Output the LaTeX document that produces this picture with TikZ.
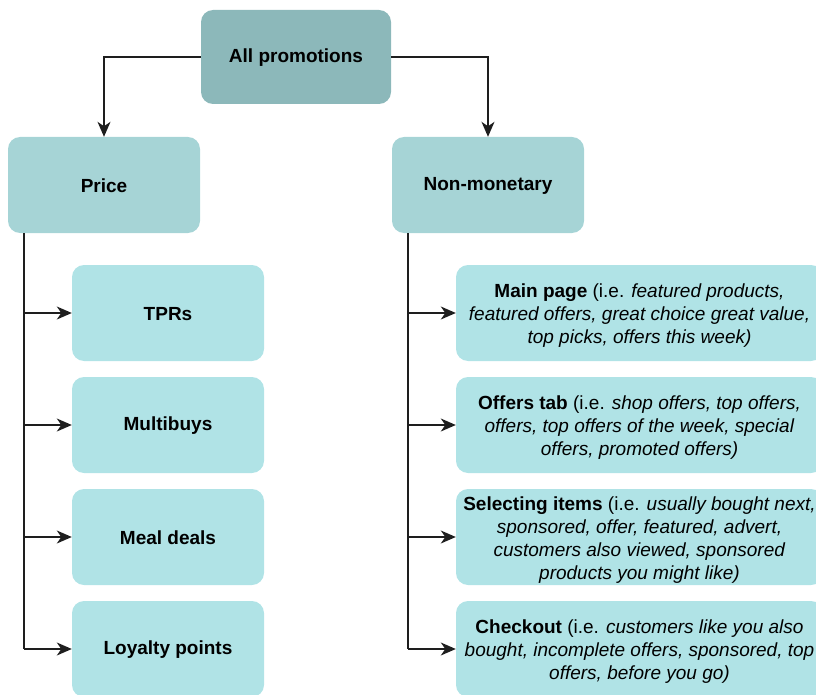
\documentclass[tikz,border=0pt]{standalone}
\usepackage{fontspec}
\setmainfont{Liberation Sans}
\usetikzlibrary{arrows.meta}
\definecolor{topfill}{HTML}{8CB8BA}
\definecolor{midfill}{HTML}{A6D4D6}
\definecolor{leaffill}{HTML}{B0E3E6}
\definecolor{linecol}{HTML}{1E1E1E}
\tikzset{
  box/.style={rounded corners=12pt, draw=none, minimum width=192pt, minimum height=96pt,
    inner sep=0pt},
  txt/.style={align=center, inner sep=0pt, font=\fontsize{19}{23}\selectfont, yshift=-3pt},
  btxt/.style={align=center, inner sep=0pt, font=\fontsize{19}{23}\selectfont\bfseries, yshift=-1pt},
  topbox/.style={box, fill=topfill, minimum width=190pt, minimum height=94pt, label={[btxt]center:#1}},
  midbox/.style={box, fill=midfill, label={[btxt]center:#1}},
  leafbox/.style={box, fill=leaffill, label={[btxt]center:#1}},
  widebox/.style={box, fill=leaffill, minimum width=367pt, label={[txt]center:#1}},
  conn/.style={draw=linecol, line width=1.4pt, -{Stealth[length=15pt,width=13pt,inset=4.5pt]}},
  plain/.style={draw=linecol, line width=1.4pt},
}
\begin{document}
\begin{tikzpicture}[x=1pt,y=-1pt]
\useasboundingbox (0,0) rectangle (816,695);
\node[topbox={All promotions}] (all) at (296,57) {};
\node[midbox={Price}] (price) at (104,185) {};
\node[midbox={Non-monetary}] (nonmon) at (488,185) {};

\node[leafbox={TPRs}] (tpr) at (168,313) {};
\node[leafbox={Multibuys}] (multi) at (168,425) {};
\node[leafbox={Meal deals}] (meal) at (168,537) {};
\node[leafbox={Loyalty points}] (loyal) at (168,649) {};

\node[widebox={\textbf{Main page} (i.e. \textit{featured products,}\\\textit{featured offers, great choice great value,}\\\textit{top picks, offers this week)}}] (mainpage) at (639.5,313) {};
\node[widebox={\textbf{Offers tab} (i.e. \textit{shop offers, top offers,}\\\textit{offers, top offers of the week, special}\\\textit{offers, promoted offers)}}] (offers) at (639.5,425) {};
\node[widebox={\textbf{Selecting items} (i.e. \textit{usually bought next,}\\\textit{sponsored, offer, featured, advert,}\\\textit{customers also viewed, sponsored}\\\textit{products you might like)}}] (select) at (639.5,537) {};
\node[widebox={\textbf{Checkout} (i.e. \textit{customers like you also}\\\textit{bought, incomplete offers, sponsored, top}\\\textit{offers, before you go)}}] (checkout) at (639.5,649) {};

\draw[conn] (all.west) -| (price.north);
\draw[conn] (all.east) -| (nonmon.north);

\coordinate (pl) at ([xshift=-80pt]price.south);
\coordinate (nl) at ([xshift=-80pt]nonmon.south);
\draw[plain] (pl) -- (pl |- loyal.west);
\draw[plain] (nl) -- (nl |- checkout.west);
\foreach \n in {tpr,multi,meal,loyal}{\draw[conn] (pl |- \n.west) -- (\n.west);}
\foreach \n in {mainpage,offers,select,checkout}{\draw[conn] (nl |- \n.west) -- (\n.west);}
\end{tikzpicture}
\end{document}
